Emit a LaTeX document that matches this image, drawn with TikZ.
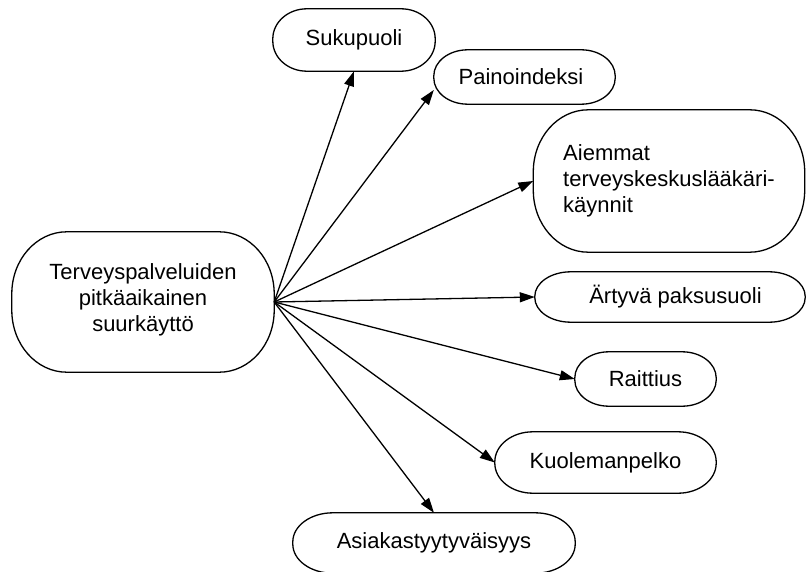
\documentclass[tikz,border=0pt]{standalone}
\usepackage{fontspec}
\setmainfont{Liberation Sans}
\usetikzlibrary{arrows.meta}
\newcommand\rbox[3]{%
  \draw[outl] ([xshift=#2]#1.north west) -- ([xshift=-#2]#1.north east)
   .. controls ([xshift=-.4477*#2]#1.north east) and ([yshift=-.4477*#3]#1.north east) .. ([yshift=-#3]#1.north east)
   -- ([yshift=#3]#1.south east)
   .. controls ([yshift=.4477*#3]#1.south east) and ([xshift=-.4477*#2]#1.south east) .. ([xshift=-#2]#1.south east)
   -- ([xshift=#2]#1.south west)
   .. controls ([xshift=.4477*#2]#1.south west) and ([yshift=.4477*#3]#1.south west) .. ([yshift=#3]#1.south west)
   -- ([yshift=-#3]#1.north west)
   .. controls ([yshift=-.4477*#3]#1.north west) and ([xshift=.4477*#2]#1.north west) .. cycle;}
\begin{document}
\begin{tikzpicture}[x=1pt,y=-1pt,
  box/.style={inner sep=0pt,font=\fontsize{22}{26}\selectfont},
  outl/.style={line width=1.3pt},
  arr/.style={line width=1.3pt,-{Triangle[length=15pt,width=10pt]}}]
\useasboundingbox (0,0) rectangle (806,572);
\node[box,minimum width=262pt,minimum height=140pt,align=center] (main) at (143,302)
  {Terveyspalveluiden\\pitkäaikainen\\suurkäyttö\\[-17pt]\mbox{}};
\node[box,minimum width=162pt,minimum height=62pt] (suku) at (354,40) {Sukupuoli};
\node[box,minimum width=181pt,minimum height=54pt] (pain) at (524.5,77) {\hspace{-7pt}Painoindeksi};
\node[box,minimum width=271pt,minimum height=142pt,align=left] (aiem) at (669,181)
  {Aiemmat\\terveyskeskuslääkäri-\\käynnit};
\node[box,minimum width=270pt,minimum height=50pt] (art) at (670,297) {\hspace{11pt}Ärtyvä paksusuoli};
\node[box,minimum width=141pt,minimum height=54pt] (rait) at (645.5,379) {Raittius\hspace{22pt}};
\node[box,minimum width=221pt,minimum height=61pt] (kuol) at (605.5,462.5) {Kuolemanpelko};
\node[box,minimum width=282pt,minimum height=60pt] (asia) at (434,543) {Asiakastyytyväisyys};
\rbox{main}{55pt}{62pt}
\rbox{aiem}{55pt}{62pt}
\rbox{suku}{34pt}{30pt}
\rbox{pain}{34pt}{26pt}
\rbox{art}{36pt}{24.5pt}
\rbox{rait}{34pt}{26pt}
\rbox{kuol}{38pt}{30pt}
\rbox{asia}{40pt}{29pt}
\coordinate (src) at (main.east);
\draw[arr] (src) -- (suku.south);
\draw[arr] (src) -- ([yshift=-13pt]pain.west);
\draw[arr] (src) -- (aiem.west);
\draw[arr] (src) -- (art.west);
\draw[arr] (src) -- (rait.west);
\draw[arr] (src) -- (kuol.west);
\draw[arr] (src) -- (asia.north);
\end{tikzpicture}
\end{document}
